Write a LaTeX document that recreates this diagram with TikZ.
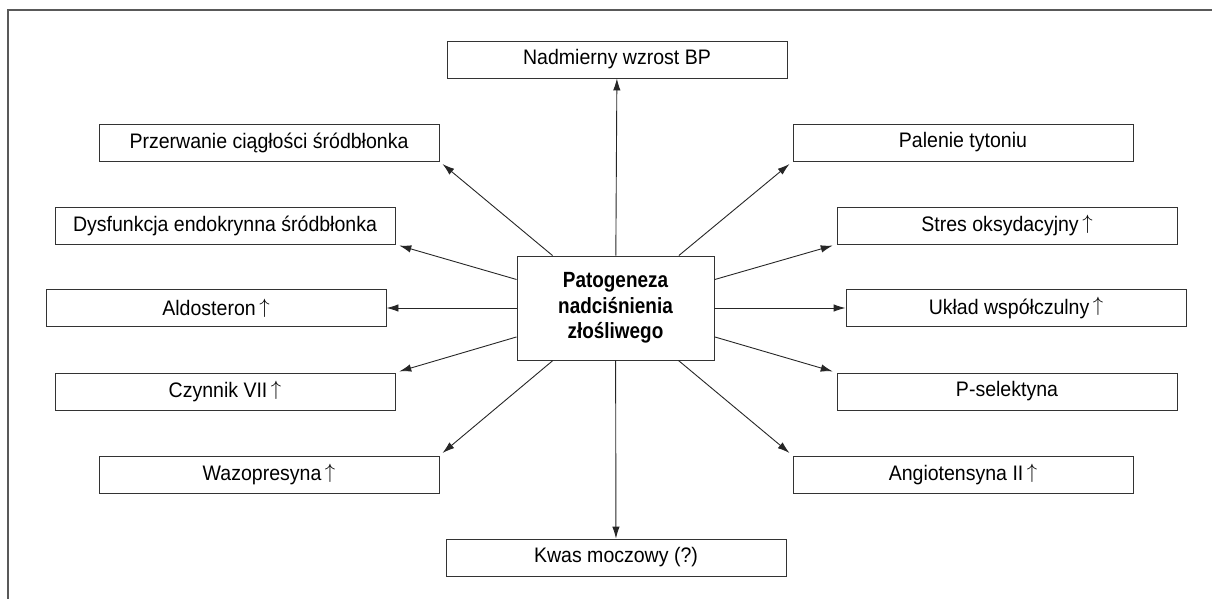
\documentclass[tikz,border=0pt]{standalone}
\usepackage{fontspec}
\setmainfont{Liberation Sans}[FakeStretch=0.93]
\newfontfamily\hubfont{Liberation Sans}[FakeStretch=0.86]
\usetikzlibrary{arrows.meta}
\newcommand{\up}{\,\raisebox{0.12em}{$\uparrow$}}

\begin{document}
\begin{tikzpicture}[x=1pt, y=-1pt,
    box/.style={draw=black!80, line width=0.9pt, minimum width=340pt, minimum height=37pt,
      inner sep=0pt, text=black, font=\fontsize{21}{26}\selectfont},
    hub/.style={draw=black!80, line width=0.9pt, minimum width=197pt, minimum height=104pt,
      inner sep=0pt, align=center, text=black, font=\hubfont\fontsize{22}{25.5}\selectfont\bfseries},
    link/.style={draw=black!85, line width=0.9pt, -{Latex[length=12pt,width=7.5pt]}},
    slant/.style={link, shorten >=4pt}]
  \useasboundingbox (0,0) rectangle (1212,599);
  \draw[black!65, line width=2pt] (8,599) -- (8,10) -- (1212,10);

  \node[hub] (c) at (615.5,308) {Patogeneza\\nadciśnienia\\złośliwego};

  \node[box] (nadmierny)    at (617,59.5)   {Nadmierny wzrost BP};
  \node[box] (przerwanie)   at (269,142.5)  {Przerwanie ciągłości śródbłonka};
  \node[box] (palenie)      at (963,142.5)  {Palenie tytoniu};
  \node[box] (dysfunkcja)   at (225,225.5)  {Dysfunkcja endokrynna śródbłonka};
  \node[box] (stres)        at (1007,225.5) {Stres oksydacyjny\up};
  \node[box] (aldosteron)   at (216,308)    {Aldosteron\up};
  \node[box] (uklad)        at (1016,308)   {Układ współczulny\up};
  \node[box] (czynnik)      at (225,391.5)  {Czynnik VII\up};
  \node[box] (pselektyna)   at (1007,391.5) {P-selektyna};
  \node[box] (wazopresyna)  at (269,474.5)  {Wazopresyna\up};
  \node[box] (angiotensyna) at (963,474.5)  {Angiotensyna II\up};
  \node[box] (kwas)         at (616,557.5)  {Kwas moczowy (?)};

  \draw[link] (c) -- (nadmierny);
  \draw[link] (c) -- (kwas);
  \draw[link] (c) -- (aldosteron);
  \draw[link] (c) -- (uklad);
  \draw[slant] (c) -- (przerwanie.south east);
  \draw[slant] (c) -- (palenie.south west);
  \draw[slant] (c) -- (dysfunkcja.south east);
  \draw[slant] (c) -- (stres.south west);
  \draw[slant] (c) -- (czynnik.north east);
  \draw[slant] (c) -- (pselektyna.north west);
  \draw[slant] (c) -- (wazopresyna.north east);
  \draw[slant] (c) -- (angiotensyna.north west);
\end{tikzpicture}
\end{document}
